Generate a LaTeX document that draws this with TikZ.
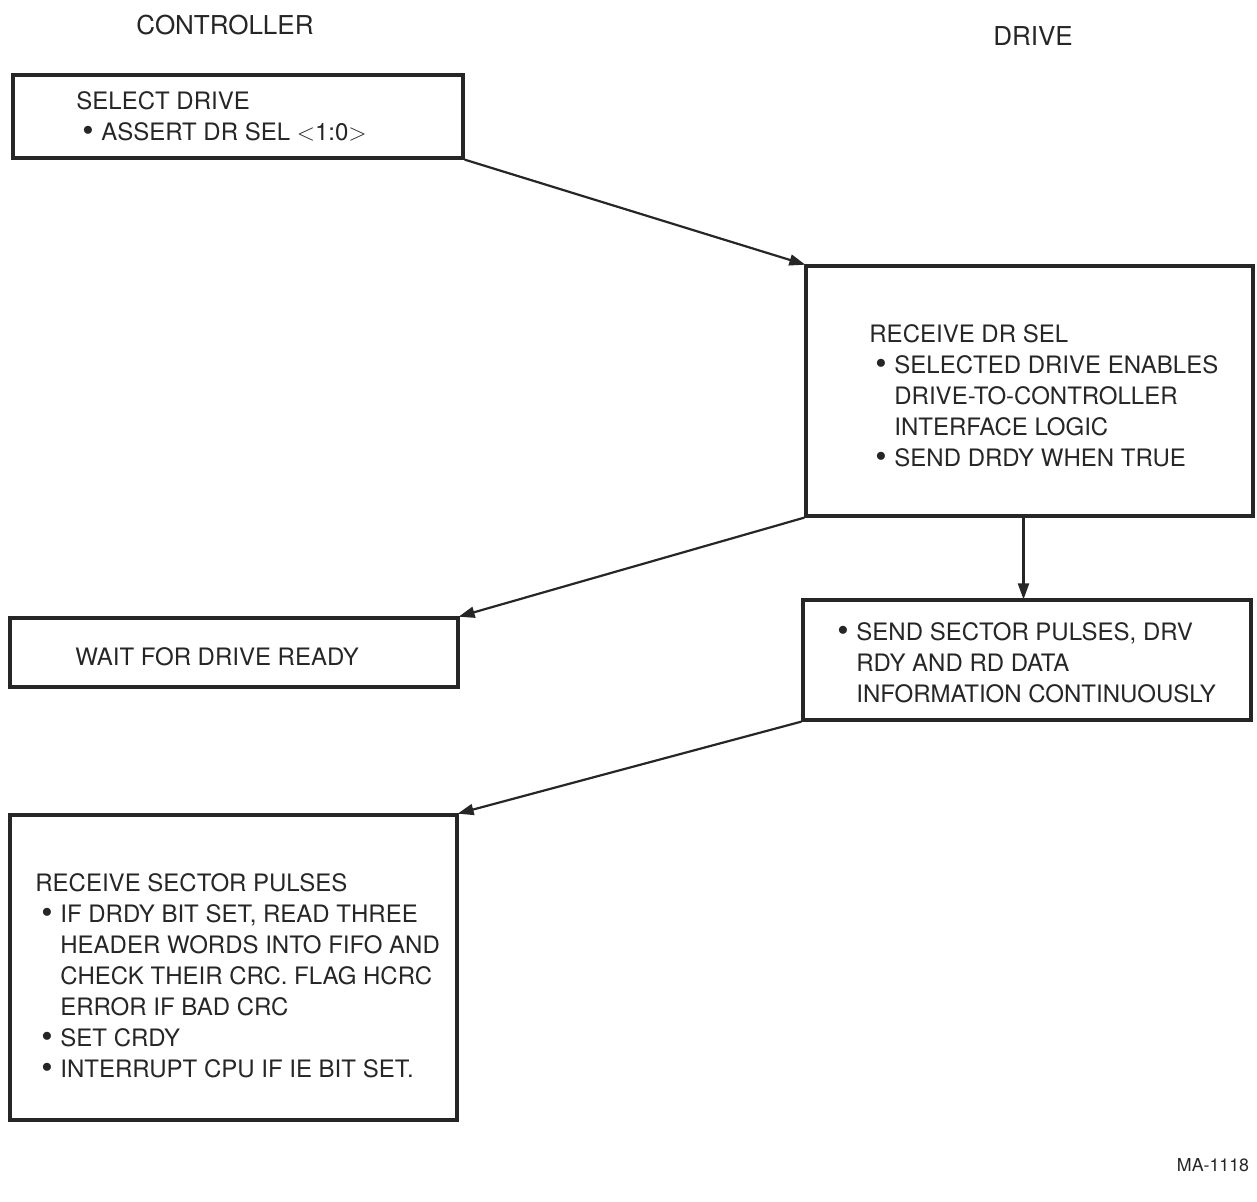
\documentclass[tikz,border=0pt]{standalone}
\usepackage{fontspec}
\setmainfont{TeX Gyre Heros}
\usepackage{graphicx}
\usetikzlibrary{arrows.meta}
\definecolor{ink}{gray}{0.15}
\newcommand\bul{\hspace*{3pt}\makebox[9.5pt][l]{\smash{\raisebox{-0.6pt}{\scalebox{1.35}{\textbullet}}}}}
\newcommand\hng{\hspace*{12.5pt}}
\begin{document}
\begin{tikzpicture}[x=0.5pt, y=-0.5pt, ink,
   box/.style={draw, line width=1.6pt, inner sep=0pt},
   txt/.style={anchor=north west, align=left, inner sep=0pt,
     font=\fontsize{12}{15.5}\selectfont},
   head/.style={font=\fontsize{13}{15}\selectfont},
   arr/.style={line width=1.1pt, -{Triangle[length=8pt, width=5.5pt]}, shorten >=-0.5pt}]
   \useasboundingbox (0,0) rectangle (1257,1201);
   \node[head] (ctl) at (225,25) {CONTROLLER};
   \node[head] (drv) at (1033,36) {DRIVE};
   % boxes
   \node[box, minimum width=225pt, minimum height=41.5pt] (sel) at (238,116.5) {};
   \node[box, minimum width=223.5pt, minimum height=125pt] (rcv) at (1029.5,391) {};
   \node[box, minimum width=224pt, minimum height=34.5pt] (wait) at (234,652.5) {};
   \node[box, minimum width=224pt, minimum height=60pt] (snd) at (1027,660) {};
   \node[box, minimum width=223.5pt, minimum height=152.5pt] (rsp) at (233.5,967.5) {};
   % texts
   \node[txt] (selT) at (76,91) {SELECT DRIVE\\ \bul ASSERT DR SEL $<$1:0$>$};
   \node[txt] (rcvT) at (869,324) {RECEIVE DR SEL\\
     \bul SELECTED DRIVE ENABLES\\ \hng DRIVE-TO-CONTROLLER\\ \hng INTERFACE LOGIC\\
     \bul SEND DRDY WHEN TRUE};
   \node[txt] (waitT) at (75,647) {WAIT FOR DRIVE READY};
   \node[txt] (sndT) at (831,622) {\bul SEND SECTOR PULSES, DRV\\ \hng RDY AND RD DATA\\
     \hng INFORMATION CONTINUOUSLY};
   \node[txt] (rspT) at (35,873) {RECEIVE SECTOR PULSES\\
     \bul IF DRDY BIT SET, READ THREE\\ \hng HEADER WORDS INTO FIFO AND\\
     \hng CHECK THEIR CRC. FLAG HCRC\\ \hng ERROR IF BAD CRC\\
     \bul SET CRDY\\ \bul INTERRUPT CPU IF IE BIT SET.};
   % connectors
   \draw[arr] (sel.south east) -- (rcv.north west);
   \draw[arr] (rcv.south west) -- (wait.north east);
   \draw[arr] ([xshift=-3pt]rcv.south) -- ([xshift=-3pt]rcv.south |- snd.north);
   \draw[arr] (snd.south west) -- (rsp.north east);
   \node[font=\fontsize{8.9}{10}\selectfont] (ma) at (1213,1165) {MA-1118};
\end{tikzpicture}
\end{document}
